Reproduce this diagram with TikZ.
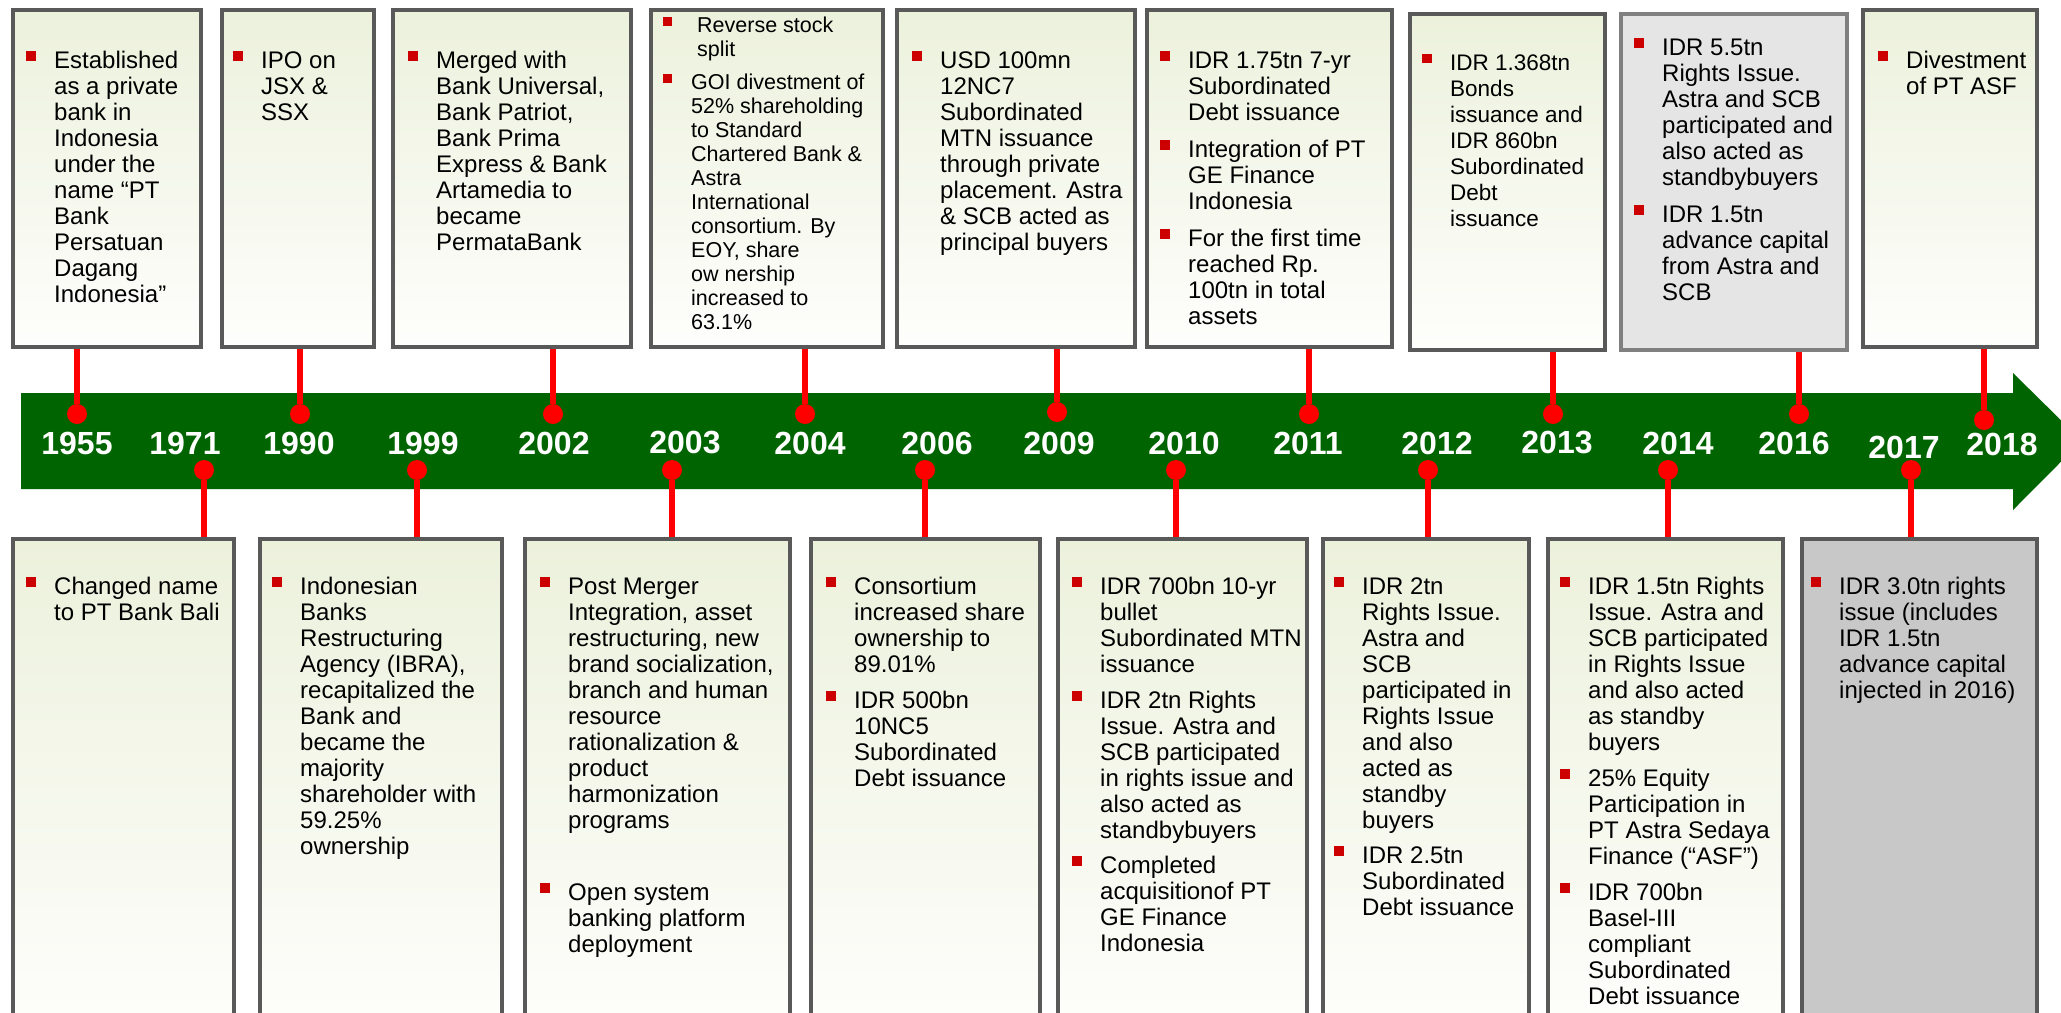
\documentclass[tikz,border=0pt]{standalone}
\usepackage{fontspec}
\setmainfont{Liberation Sans}
\pgfdeclarelayer{bg}
\pgfsetlayers{bg,main}
\definecolor{bandgreen}{RGB}{0,100,0}
\definecolor{stubred}{RGB}{255,0,0}
\definecolor{bulred}{RGB}{204,0,0}
\definecolor{frame}{RGB}{89,89,89}
\definecolor{frameL}{RGB}{128,128,128}
\definecolor{boxtop}{RGB}{236,241,220}
\definecolor{boxbot}{RGB}{254,254,252}
\definecolor{greyA}{RGB}{229,229,229}
\definecolor{greyB}{RGB}{200,200,200}
\newcommand{\bl}{\makebox[28pt][l]{\textcolor{bulred}{\rule[0.29em]{0.42em}{0.42em}}}}
\newcommand{\il}{\hspace*{28pt}}
\newcommand{\tbk}[1]{\begin{tabular}[t]{@{}l@{}}#1\end{tabular}}
\tikzset{
  tbox/.style={draw=frame, line width=4pt, inner sep=0pt, outer sep=0pt, top color=boxtop, bottom color=boxbot},
  gboxA/.style={draw=frameL, line width=4pt, inner sep=0pt, outer sep=0pt, fill=greyA},
  gboxB/.style={draw=frame, line width=4pt, inner sep=0pt, outer sep=0pt, fill=greyB},
  topsize/.style={minimum height=337pt},
  botsize/.style={minimum height=501pt},
  dot/.style={circle, fill=stubred, minimum size=20pt, inner sep=0pt, outer sep=0pt},
  stub/.style={draw=stubred, line width=6pt},
  year/.style={text=white, font=\bfseries\fontsize{32}{32}\selectfont, inner sep=0pt},
  txt/.style={anchor=base west, inner sep=0pt, text=black, font=\fontsize{24}{26}\selectfont},
}
\begin{document}
\begin{tikzpicture}[x=1pt,y=-1pt]
\useasboundingbox (0,0) rectangle (2061,1012);

% background and band
\begin{pgfonlayer}{bg}
\fill[white] (0,0) rectangle (2061,1012);
\fill[bandgreen] (21,393) -- (2013,393) -- (2013,373) -- (2061,420.3) -- (2061,461.7) -- (2013,510) -- (2013,489) -- (21,489) -- cycle;
\end{pgfonlayer}

% top boxes
\node[tbox, topsize, minimum width=188pt] (box1955) at (107,178.5) {};
\node[tbox, topsize, minimum width=152pt] (box1990) at (298,178.5) {};
\node[tbox, topsize, minimum width=238pt] (box2002) at (512,178.5) {};
\node[tbox, topsize, minimum width=232pt] (box2004) at (767,178.5) {};
\node[tbox, topsize, minimum width=238pt] (box2009) at (1016,178.5) {};
\node[tbox, topsize, minimum width=245pt] (box2011) at (1269.5,178.5) {};
\node[tbox, minimum height=336pt, minimum width=195pt] (box2013) at (1507.5,182) {};
\node[gboxA, minimum height=336pt, minimum width=226pt] (box2016) at (1734,182) {};
\node[tbox, topsize, minimum width=174pt] (box2018) at (1950,178.5) {};

% bottom boxes
\node[tbox, botsize, minimum width=221pt] (box1971) at (123.5,789.5) {};
\node[tbox, botsize, minimum width=242pt] (box1999) at (381,789.5) {};
\node[tbox, botsize, minimum width=265pt] (box2003) at (657.5,789.5) {};
\node[tbox, botsize, minimum width=229pt] (box2006) at (925.5,789.5) {};
\node[tbox, botsize, minimum width=249pt] (box2010) at (1182.5,789.5) {};
\node[tbox, botsize, minimum width=206pt] (box2012) at (1426,789.5) {};
\node[tbox, botsize, minimum width=235pt] (box2014) at (1665.5,789.5) {};
\node[gboxB, botsize, minimum width=235pt] (box2017) at (1919.5,789.5) {};

% dots
\node[dot] (d1955) at (77,414) {};
\node[dot] (d1990) at (300,414) {};
\node[dot] (d2002) at (553,414) {};
\node[dot] (d2004) at (805,414) {};
\node[dot] (d2009) at (1057,412) {};
\node[dot] (d2011) at (1309,414) {};
\node[dot] (d2013) at (1553,414) {};
\node[dot] (d2016) at (1799,414) {};
\node[dot] (d2018) at (1984,420) {};
\node[dot] (d1971) at (204,470) {};
\node[dot] (d1999) at (417,470) {};
\node[dot] (d2003) at (672,470) {};
\node[dot] (d2006) at (925,470) {};
\node[dot] (d2010) at (1176,470) {};
\node[dot] (d2012) at (1428,470) {};
\node[dot] (d2014) at (1668,470) {};
\node[dot] (d2017) at (1911,470) {};

% stubs
\begin{pgfonlayer}{bg}
\foreach \y in {1955,1990,2002,2004,2009,2011,2013,2016,2018}
  \draw[stub] (d\y) -- (d\y |- box\y.south);
\foreach \y in {1971,1999,2003,2006,2010,2012,2014,2017}
  \draw[stub] (d\y) -- (d\y |- box\y.north);
\end{pgfonlayer}

% years
\node[year] (y1955) at (77,443) {1955};
\node[year] (y1971) at (185,443) {1971};
\node[year] (y1990) at (299,443) {1990};
\node[year] (y1999) at (423,443) {1999};
\node[year] (y2002) at (554,443) {2002};
\node[year] (y2003) at (685,443) {2003};
\node[year] (y2004) at (810,443) {2004};
\node[year] (y2006) at (937,443) {2006};
\node[year] (y2009) at (1059,443) {2009};
\node[year] (y2010) at (1184,443) {2010};
\node[year] (y2011) at (1308,443) {2011};
\node[year] (y2012) at (1437,443) {2012};
\node[year] (y2013) at (1557,443) {2013};
\node[year] (y2014) at (1678,443) {2014};
\node[year] (y2016) at (1794,443) {2016};
\node[year] (y2017) at (1904,447) {2017};
\node[year] (y2018) at (2002,444) {2018};

% top texts
\node[txt] (t1955) at (26,68) {\tbk{\bl Established\\ \il as a private\\ \il bank in\\ \il Indonesia\\ \il under the\\ \il name “PT\\ \il Bank\\ \il Persatuan\\ \il Dagang\\ \il Indonesia”}};
\node[txt] (t1990) at (233,68) {\tbk{\bl IPO on\\ \il JSX \&\\ \il SSX}};
\node[txt] (t2002) at (408,68) {\tbk{\bl Merged with\\ \il Bank Universal,\\ \il Bank Patriot,\\ \il Bank Prima\\ \il Express \& Bank\\ \il Artamedia to\\ \il became\\ \il PermataBank}};
\node[txt, font=\fontsize{21.5}{24}\selectfont] (t2004) at (663,32) {\tbk{\makebox[34pt][l]{\textcolor{bulred}{\rule[0.29em]{0.42em}{0.42em}}}Reverse stock\\ \hspace*{34pt}split\\[9pt] \bl GOI divestment of\\ \il 52\% shareholding\\ \il to Standard\\ \il Chartered Bank \&\\ \il Astra\\ \il International\\ \il consortium. By\\ \il EOY, share\\ \il ow nership\\ \il increased to\\ \il 63.1\%}};
\node[txt] (t2009) at (912,68) {\tbk{\bl USD 100mn\\ \il 12NC7\\ \il Subordinated\\ \il MTN issuance\\ \il through private\\ \il placement. Astra\\ \il \& SCB acted as\\ \il principal buyers}};
\node[txt] (t2011) at (1160,68) {\tbk{\bl IDR 1.75tn 7-yr\\ \il Subordinated\\ \il Debt issuance\\[11pt] \bl Integration of PT\\ \il GE Finance\\ \il Indonesia\\[11pt] \bl For the first time\\ \il reached Rp.\\ \il 100tn in total\\ \il assets}};
\node[txt, font=\fontsize{22.5}{26}\selectfont] (t2013) at (1422,70) {\tbk{\bl IDR 1.368tn\\ \il Bonds\\ \il issuance and\\ \il IDR 860bn\\ \il Subordinated\\ \il Debt\\ \il issuance}};
\node[txt] (t2016) at (1634,55) {\tbk{\bl IDR 5.5tn\\ \il Rights Issue.\\ \il Astra and SCB\\ \il participated and\\ \il also acted as\\ \il standbybuyers\\[11pt] \bl IDR 1.5tn\\ \il advance capital\\ \il from Astra and\\ \il SCB}};
\node[txt] (t2018) at (1878,68) {\tbk{\bl Divestment\\ \il of PT ASF}};

% bottom texts
\node[txt] (t1971) at (26,594) {\tbk{\bl Changed name\\ \il to PT Bank Bali}};
\node[txt] (t1999) at (272,594) {\tbk{\bl Indonesian\\ \il Banks\\ \il Restructuring\\ \il Agency (IBRA),\\ \il recapitalized the\\ \il Bank and\\ \il became the\\ \il majority\\ \il shareholder with\\ \il 59.25\%\\ \il ownership}};
\node[txt] (t2003) at (540,594) {\tbk{\bl Post Merger\\ \il Integration, asset\\ \il restructuring, new\\ \il brand socialization,\\ \il branch and human\\ \il resource\\ \il rationalization \&\\ \il product\\ \il harmonization\\ \il programs\\[46pt] \bl Open system\\ \il banking platform\\ \il deployment}};
\node[txt] (t2006) at (826,594) {\tbk{\bl Consortium\\ \il increased share\\ \il ownership to\\ \il 89.01\%\\[10pt] \bl IDR 500bn\\ \il 10NC5\\ \il Subordinated\\ \il Debt issuance}};
\node[txt] (t2010) at (1072,594) {\tbk{\bl IDR 700bn 10-yr\\ \il bullet\\ \il Subordinated MTN\\ \il issuance\\[10pt] \bl IDR 2tn Rights\\ \il Issue. Astra and\\ \il SCB participated\\ \il in rights issue and\\ \il also acted as\\ \il standbybuyers\\[9pt] \bl Completed\\ \il acquisitionof PT\\ \il GE Finance\\ \il Indonesia}};
\node[txt] (t2012) at (1334,594) {\tbk{\bl IDR 2tn\\ \il Rights Issue.\\ \il Astra and\\ \il SCB\\ \il participated in\\ \il Rights Issue\\ \il and also\\ \il acted as\\ \il standby\\ \il buyers\\[9pt] \bl IDR 2.5tn\\ \il Subordinated\\ \il Debt issuance}};
\node[txt] (t2014) at (1560,594) {\tbk{\bl IDR 1.5tn Rights\\ \il Issue. Astra and\\ \il SCB participated\\ \il in Rights Issue\\ \il and also acted\\ \il as standby\\ \il buyers\\[10pt] \bl 25\% Equity\\ \il Participation in\\ \il PT Astra Sedaya\\ \il Finance (“ASF”)\\[10pt] \bl IDR 700bn\\ \il Basel-III\\ \il compliant\\ \il Subordinated\\ \il Debt issuance}};
\node[txt] (t2017) at (1811,594) {\tbk{\bl IDR 3.0tn rights\\ \il issue (includes\\ \il IDR 1.5tn\\ \il advance capital\\ \il injected in 2016)}};
\end{tikzpicture}
\end{document}
